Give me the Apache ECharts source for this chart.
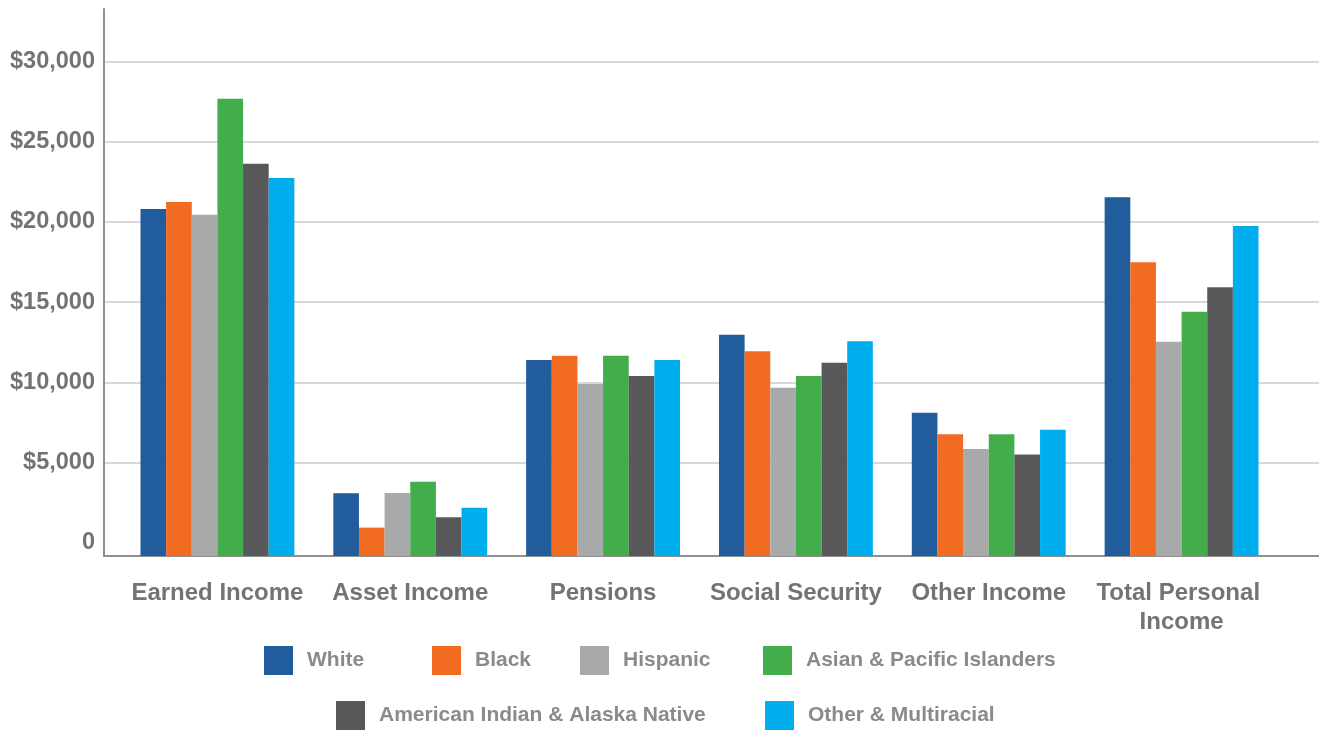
<!DOCTYPE html>
<html>
<head>
<meta charset="utf-8">
<script src="https://cdn.jsdelivr.net/npm/echarts@6/dist/echarts.min.js"></script>
<style>
html,body{margin:0;padding:0;background:#fff;}
#c{width:1319px;height:730px;}
</style>
</head>
<body>
<div id="c"></div>
<script>
const categories = ['Earned Income', 'Asset Income', 'Pensions', 'Social Security', 'Other Income', 'Total Personal Income'];
const seriesNames = ['White', 'Black', 'Hispanic', 'Asian & Pacific Islanders', 'American Indian & Alaska Native', 'Other & Multiracial'];
const white    = [20800, 3080, 11390, 12970, 8100, 21530];
const black    = [21240,  940, 11660, 11930, 6760, 17480];
const hispanic = [20450, 3100,  9890,  9660, 5840, 12530];
const asian    = [27680, 3800, 11660, 10390, 6760, 14400];
const aian     = [23630, 1580, 10390, 11220, 5490, 15920];
const other    = [22740, 2180, 11390, 12560, 7040, 19740];
const yTickValues = [0, 5000, 10000, 15000, 20000, 25000, 30000];

const seriesValues = [white, black, hispanic, asian, aian, other];
const colors = ['#215c9c', '#f26b23', '#a8aaa9', '#43ac4b', '#58585b', '#00aeee'];

const Y_MIN = -830, Y_MAX = 33270;
const FONT = '"Liberation Sans", Arial, Helvetica, sans-serif';

const legendPos = [
  {left: 264, top: 646}, {left: 432, top: 646}, {left: 580, top: 646}, {left: 763, top: 646},
  {left: 336, top: 701}, {left: 765, top: 701}
];

const chart = echarts.init(document.getElementById('c'), null, {renderer: 'canvas'});
chart.setOption({
  backgroundColor: '#ffffff',
  animation: false,
  color: colors,
  grid: [
    {left: 104, right: 0, top: 9, bottom: 174, outerBoundsMode: 'none', containLabel: false},
    {left: 121, right: 41, top: 9, bottom: 174, outerBoundsMode: 'none', containLabel: false}
  ],
  xAxis: [
    {
      gridIndex: 0, type: 'category', data: [''],
      axisLine: {show: true, onZero: false, lineStyle: {color: '#8f8f8f', width: 2}},
      axisTick: {show: false}, axisLabel: {show: false}, splitLine: {show: false}
    },
    {
      gridIndex: 1, type: 'category', data: categories,
      axisLine: {show: false}, axisTick: {show: false}, splitLine: {show: false},
      axisLabel: {
        interval: 0, margin: 23, color: '#737373', fontFamily: FONT, fontWeight: 'bold',
        fontSize: 24, lineHeight: 29, width: 190, overflow: 'break', align: 'center'
      }
    }
  ],
  yAxis: [
    {
      gridIndex: 0, type: 'value', min: Y_MIN, max: Y_MAX, startValue: Y_MIN,
      axisLine: {show: true, lineStyle: {color: '#8f8f8f', width: 2}},
      axisTick: {show: false, customValues: yTickValues.filter(v => v > 0)},
      splitLine: {show: true, lineStyle: {color: '#cbcbcb', width: 1.5}},
      axisLabel: {
        customValues: yTickValues, margin: 9, color: '#737373', fontFamily: FONT,
        fontWeight: 'bold', fontSize: 23.5, padding: [4, 0, 0, 0],
        formatter: v => v === 0 ? '0' : '$' + Number(v).toLocaleString('en-US')
      }
    },
    {
      gridIndex: 1, type: 'value', min: Y_MIN, max: Y_MAX, startValue: Y_MIN, show: false,
      splitLine: {show: false}
    }
  ],
  legend: seriesNames.map((name, i) => ({
    data: [name], left: legendPos[i].left, top: legendPos[i].top, padding: 0,
    icon: 'rect', itemWidth: 29, itemHeight: 29,
    textStyle: {color: '#8a8a8a', fontFamily: FONT, fontWeight: 'bold', fontSize: 21, padding: [0, 0, 0, 9]}
  })),
  series: seriesNames.map((name, i) => ({
    name: name, type: 'bar', xAxisIndex: 1, yAxisIndex: 1,
    data: seriesValues[i], barGap: '0%', barCategoryGap: '20.2%',
    itemStyle: {color: colors[i]}
  }))
});
</script>
</body>
</html>
